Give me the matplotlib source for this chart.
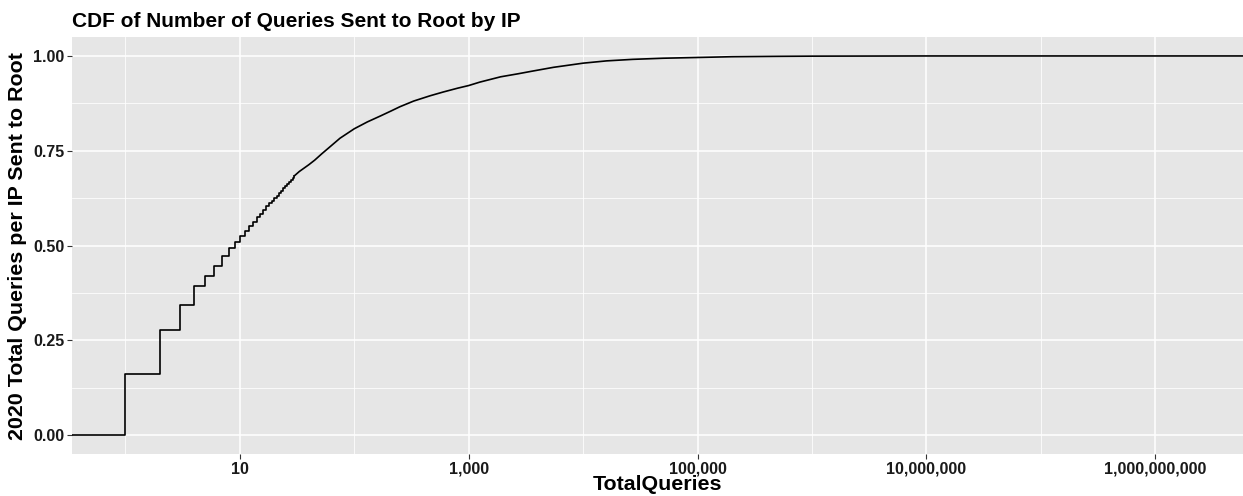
import numpy as np
import matplotlib.pyplot as plt
from matplotlib.ticker import FixedLocator, FuncFormatter

plt.rcParams['font.family'] = ['Liberation Sans', 'DejaVu Sans']

# ECDF: integer steps at the low end
step_queries = np.arange(1, 31)
step_cdf = [0.160, 0.278, 0.344, 0.392, 0.420, 0.447, 0.473, 0.494, 0.510, 0.524,
            0.538, 0.551, 0.563, 0.574, 0.584, 0.594, 0.603, 0.611, 0.618, 0.624,
            0.631, 0.638, 0.645, 0.651, 0.657, 0.663, 0.668, 0.674, 0.679, 0.684]

# smooth part of the ECDF (steps too small to see)
curve_queries = [30, 33, 40, 45, 52, 60, 75, 100, 130, 170, 210, 250, 330, 460, 600,
                 800, 1000, 1250, 1900, 2700, 3600, 5500, 10000, 16000, 27000, 50000,
                 1e5, 2e5, 5e5, 1e6, 1e7, 1e10]
curve_cdf = [0.684, 0.695, 0.713, 0.725, 0.742, 0.758, 0.783, 0.808, 0.826, 0.842,
             0.855, 0.866, 0.881, 0.895, 0.905, 0.915, 0.922, 0.931, 0.945, 0.953,
             0.960, 0.970, 0.981, 0.987, 0.991, 0.994, 0.996, 0.998, 0.999, 0.9995,
             1.0, 1.0]

x_breaks = [10, 1e3, 1e5, 1e7, 1e9]
x_minor = [1, 100, 1e4, 1e6, 1e8]
y_breaks = [0, 0.25, 0.5, 0.75, 1.0]
y_minor = [0.125, 0.375, 0.625, 0.875]

W, H = 1243, 496
fig = plt.figure(figsize=(W / 100, H / 100), dpi=100)
ax = fig.add_axes([72 / W, 42 / H, 1171 / W, 417 / H])
ax.set_facecolor('#E6E6E6')
for s in ax.spines.values():
    s.set_visible(False)

ax.set_xscale('log')
ax.set_xlim(10 ** -0.467, 10 ** 9.766)
ax.set_ylim(-0.05, 1.05)

ax.xaxis.set_major_locator(FixedLocator(x_breaks))
ax.xaxis.set_minor_locator(FixedLocator(x_minor))
ax.yaxis.set_major_locator(FixedLocator(y_breaks))
ax.yaxis.set_minor_locator(FixedLocator(y_minor))
ax.xaxis.set_major_formatter(FuncFormatter(lambda v, p: '{:,.0f}'.format(v)))
ax.xaxis.set_minor_formatter(FuncFormatter(lambda v, p: ''))
ax.yaxis.set_major_formatter(FuncFormatter(lambda v, p: '{:.2f}'.format(v)))

ax.grid(which='major', color='white', lw=1.1)
ax.grid(which='minor', color='white', lw=0.55)
ax.set_axisbelow(True)
ax.tick_params(which='major', length=3.5, width=0.8, color='#333333',
               labelsize=11.5, labelcolor='#1a1a1a', pad=2)
ax.tick_params(which='minor', length=0)
for lab in ax.get_xticklabels() + ax.get_yticklabels():
    lab.set_fontweight('bold')

# pad the step line to the left edge like stat_ecdf does
sx = np.concatenate([[0.1], step_queries])
sy = np.concatenate([[0.0], step_cdf])
ax.plot(sx, sy, color='black', lw=1.2, drawstyle='steps-post')
ax.plot(curve_queries, curve_cdf, color='black', lw=1.2)

fig.text(72 / W, 1 - 27 / H, 'CDF of Number of Queries Sent to Root by IP',
         fontsize=15, fontweight='bold', va='baseline', ha='left')
fig.text((72 + 1171 / 2) / W, 1 - 485 / H, 'TotalQueries',
         fontsize=15.4, fontweight='bold', va='center', ha='center')
fig.text(18 / W, 1 - 246 / H, '2020 Total Queries per IP Sent to Root',
         fontsize=15.4, fontweight='bold', va='center', ha='center', rotation=90)

plt.savefig('out.png', dpi=100)
